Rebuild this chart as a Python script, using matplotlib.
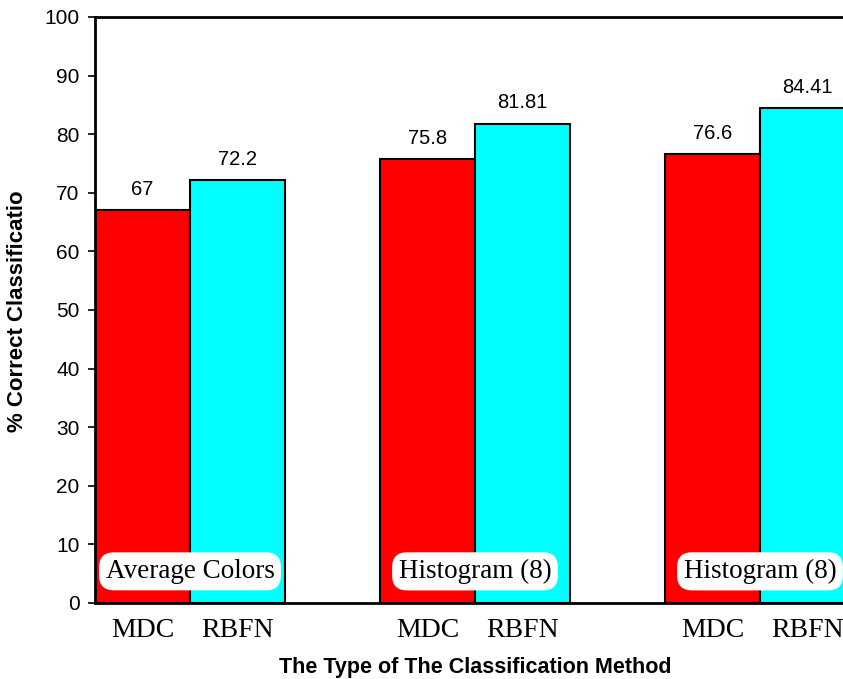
import numpy as np
import matplotlib.pyplot as plt

# classification accuracy per feature set
groups = ['Average Colors', 'Histogram (8)', 'Histogram (8)']
mdc = [67, 75.8, 76.6]
rbfn = [72.2, 81.81, 84.41]
mdc_labels = ['67', '75.8', '76.6']
rbfn_labels = ['72.2', '81.81', '84.41']

plt.rcParams['font.family'] = ['Liberation Sans', 'DejaVu Sans']

fig = plt.figure(figsize=(8.43, 6.79), dpi=100)
# axes run past the right edge of the figure
ax = fig.add_axes([95 / 843, 76 / 679, 855 / 843, 586 / 679])

x = np.arange(len(groups))
w = 1 / 3
b1 = ax.bar(x - w / 2, mdc, w, color='#ff0000', edgecolor='black', linewidth=1.5)
b2 = ax.bar(x + w / 2, rbfn, w, color='#00ffff', edgecolor='black', linewidth=1.5)

for bars, labels in [(b1, mdc_labels), (b2, rbfn_labels)]:
    for bar, lab in zip(bars, labels):
        ax.annotate(lab, (bar.get_x() + bar.get_width() / 2, bar.get_height()),
                    xytext=(0, 8), textcoords='offset points',
                    ha='center', va='bottom', fontsize=14.5)

for xi, g in zip(x, groups):
    ax.text(xi, 5.4, g, ha='center', va='center', fontsize=19.5,
            family=['Liberation Serif'],
            bbox=dict(boxstyle='round,pad=0.24,rounding_size=0.55',
                      facecolor='white', edgecolor='none'))

ax.set_xlim(-w, 2 + 2 * w)
ax.set_ylim(0, 100)
ax.set_yticks(np.arange(0, 101, 10))
ax.tick_params(axis='y', direction='out', length=5, width=1.2, pad=6, labelsize=15)

xt = np.concatenate([x - w / 2, x + w / 2])
ax.set_xticks(xt)
ax.set_xticklabels(['MDC'] * 3 + ['RBFN'] * 3, family=['Liberation Serif'], fontsize=20)
ax.tick_params(axis='x', length=0, pad=10.5)

for s in ax.spines.values():
    s.set_linewidth(2)

fig.text(18 / 843, 1 - 311 / 679, '% Correct Classificatio', rotation=90,
         ha='center', va='center', fontsize=16, fontweight='bold')
fig.text(475 / 843, 1 - 668 / 679, 'The Type of The Classification Method',
         ha='center', va='center', fontsize=15.5, fontweight='bold')

fig.savefig('out.png', dpi=100)
